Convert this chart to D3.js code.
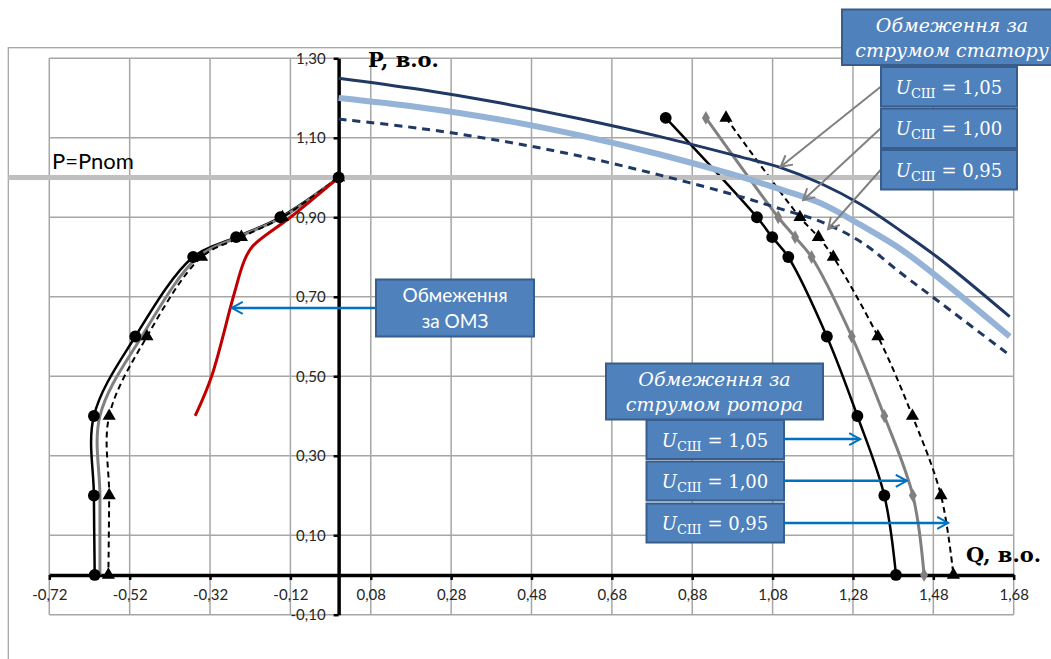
<!DOCTYPE html>
<html>
<head>
<meta charset="utf-8">
<script src="https://cdn.jsdelivr.net/npm/d3@7"></script>
<style>
  body { margin: 0; background: #fff; }
  svg { display: block; }
</style>
</head>
<body>
<script>
var WIDTH = 1051,
    HEIGHT = 659;

// axis ticks
var qTicks = [-0.72, -0.52, -0.32, -0.12, 0.08, 0.28, 0.48, 0.68, 0.88, 1.08, 1.28, 1.48, 1.68];
var pTicks = [-0.10, 0.10, 0.30, 0.50, 0.70, 0.90, 1.10, 1.30];

// stator current limit (U = 1.05 / 1.00 / 0.95)
var statorQ    = [0, 0.2, 0.4, 0.6, 0.8, 1.0, 1.1, 1.2, 1.3, 1.4, 1.5, 1.67];
var statorP105 = [1.25, 1.222, 1.188, 1.148, 1.103, 1.052, 1.025, 0.985, 0.932, 0.865, 0.792, 0.65];
var statorP100 = [1.20, 1.177, 1.146, 1.106, 1.058, 1.002, 0.970, 0.935, 0.880, 0.819, 0.742, 0.60];
var statorP095 = [1.147, 1.124, 1.093, 1.054, 1.006, 0.952, 0.921, 0.889, 0.838, 0.759, 0.683, 0.553];

// rotor current limit, over-excited side
var rotorPR    = [1.15, 0.90, 0.85, 0.80, 0.60, 0.40, 0.20, 0];
var rotorQR105 = [0.814, 1.041, 1.079, 1.119, 1.215, 1.291, 1.358, 1.387];
var rotorQR100 = [0.914, 1.094, 1.136, 1.177, 1.277, 1.358, 1.429, 1.457];
var rotorQR095 = [0.964, 1.148, 1.194, 1.231, 1.342, 1.428, 1.499, 1.530];

// rotor current limit, under-excited side
var rotorPL    = [1.0, 0.90, 0.85, 0.80, 0.60, 0.40, 0.20, 0];
var rotorQL105 = [0, -0.145, -0.255, -0.362, -0.506, -0.609, -0.609, -0.607];
var rotorQL100 = [0, -0.140, -0.250, -0.350, -0.490, -0.594, -0.594, -0.594];
var rotorQL095 = [0, -0.140, -0.242, -0.341, -0.477, -0.571, -0.571, -0.573];

// under-excitation limiter (ОМЗ)
var omzQ = [0, -0.12, -0.215, -0.235, -0.262, -0.316, -0.357];
var omzP = [1.0, 0.90, 0.826, 0.79, 0.70, 0.50, 0.40];

var pNom = 1.0;

var x = d3.scaleLinear().domain([-0.72, 1.68]).range([49.3, 1013.7]),
    y = d3.scaleLinear().domain([-0.10, 1.30]).range([614.7, 58.3]);

var loc = d3.formatLocale({decimal: ",", thousands: " ", grouping: [3], currency: ["", ""], minus: "-"}),
    fmt = loc.format(".2f");

function pts(qs, ps) { return qs.map(function(q, i) { return [q, ps[i]]; }); }

var line = d3.line()
    .x(function(d) { return x(d[0]); })
    .y(function(d) { return y(d[1]); })
    .curve(d3.curveCatmullRom.alpha(0.5));

var svg = d3.select("body").append("svg")
    .attr("width", WIDTH)
    .attr("height", HEIGHT)
    .style("font-family", "Lato, 'Open Sans', sans-serif");

var defs = svg.append("defs");
function arrowMarker(id, color) {
  defs.append("marker")
      .attr("id", id)
      .attr("viewBox", "-12 -7 14 14")
      .attr("refX", 0).attr("refY", 0)
      .attr("markerWidth", 14).attr("markerHeight", 14)
      .attr("markerUnits", "userSpaceOnUse")
      .attr("orient", "auto")
    .append("path")
      .attr("d", "M-11,-6 L0,0 L-11,6")
      .attr("fill", "none")
      .attr("stroke", color)
      .attr("stroke-width", 2);
}
arrowMarker("arrGray", "#808080");
arrowMarker("arrBlue", "#0070c0");

// chart frame + grid
svg.append("rect")
    .attr("x", 8.3).attr("y", 47.7)
    .attr("width", 1100).attr("height", 700)
    .attr("fill", "none").attr("stroke", "#a6a6a6").attr("stroke-width", 1.3);

svg.append("g").selectAll("line").data(qTicks).enter().append("line")
    .attr("x1", function(d) { return x(d); }).attr("x2", function(d) { return x(d); })
    .attr("y1", y(1.30)).attr("y2", y(-0.10))
    .attr("stroke", "#a6a6a6").attr("stroke-width", 1.5);
svg.append("g").selectAll("line").data(pTicks).enter().append("line")
    .attr("x1", x(-0.72)).attr("x2", x(1.68))
    .attr("y1", function(d) { return y(d); }).attr("y2", function(d) { return y(d); })
    .attr("stroke", "#a6a6a6").attr("stroke-width", 1.5);

// axes
var xAxis = svg.append("g")
    .attr("transform", "translate(0," + y(0) + ")")
    .call(d3.axisBottom(x).tickValues(qTicks).tickSize(5).tickSizeOuter(0).tickPadding(9).tickFormat(fmt));
var yAxis = svg.append("g")
    .attr("transform", "translate(" + x(0) + ",0)")
    .call(d3.axisLeft(y).tickValues(pTicks).tickSize(5).tickSizeOuter(0).tickPadding(8).tickFormat(fmt));
[xAxis, yAxis].forEach(function(a) {
  a.select(".domain").attr("stroke", "#000").attr("stroke-width", 3.5);
  a.selectAll(".tick line").attr("stroke", "#000").attr("stroke-width", 2.5);
  a.selectAll(".tick text").attr("fill", "#262626")
      .style("font-family", "Lato, sans-serif").style("font-size", "15px");
});

// rotor current curves
var rotorSeries = [
  {data: pts(rotorQR105, rotorPR), color: "#000", width: 2.5, dash: null, sym: d3.symbolCircle, size: 110, mark: true},
  {data: pts(rotorQR100, rotorPR), color: "#808080", width: 3, dash: null, sym: d3.symbolDiamond, size: 55, mark: true},
  {data: pts(rotorQR095, rotorPR), color: "#000", width: 2, dash: "6,4", sym: d3.symbolTriangle, size: 75, mark: true},
  {data: pts(rotorQL105, rotorPL), color: "#000", width: 2.5, dash: null, sym: d3.symbolCircle, size: 110, mark: true},
  {data: pts(rotorQL100, rotorPL), color: "#808080", width: 3, dash: null, sym: null, size: 0, mark: false},
  {data: pts(rotorQL095, rotorPL), color: "#000", width: 2, dash: "6,4", sym: d3.symbolTriangle, size: 75, mark: true}
];

svg.append("g").selectAll("path").data(rotorSeries).enter().append("path")
    .attr("d", function(s) { return line(s.data); })
    .attr("fill", "none")
    .attr("stroke", function(s) { return s.color; })
    .attr("stroke-width", function(s) { return s.width; })
    .attr("stroke-dasharray", function(s) { return s.dash; });

// OMZ limiter
svg.append("path")
    .attr("d", line(pts(omzQ, omzP)))
    .attr("fill", "none").attr("stroke", "#c00000").attr("stroke-width", 3);

// P = Pnom
svg.append("line")
    .attr("x1", 8.3).attr("x2", x(1.68))
    .attr("y1", y(pNom)).attr("y2", y(pNom))
    .attr("stroke", "#bfbfbf").attr("stroke-width", 5);
svg.append("text")
    .attr("x", 52).attr("y", 169)
    .style("font-size", "22px").attr("fill", "#000")
    .text("P=Pnom");

// stator current curves
var statorSeries = [
  {p: statorP105, color: "#1f3864", width: 3, dash: null},
  {p: statorP100, color: "#95b3d7", width: 6, dash: null},
  {p: statorP095, color: "#1f3864", width: 3, dash: "8,6"}
];
svg.append("g").selectAll("path").data(statorSeries).enter().append("path")
    .attr("d", function(s) { return line(pts(statorQ, s.p)); })
    .attr("fill", "none")
    .attr("stroke", function(s) { return s.color; })
    .attr("stroke-width", function(s) { return s.width; })
    .attr("stroke-dasharray", function(s) { return s.dash; });

// markers
rotorSeries.filter(function(s) { return s.mark; }).forEach(function(s) {
  svg.append("g").selectAll("path").data(s.data).enter().append("path")
      .attr("transform", function(d) { return "translate(" + x(d[0]) + "," + y(d[1]) + ")"; })
      .attr("d", d3.symbol().type(s.sym).size(s.size))
      .attr("fill", s.color);
});

// axis titles
svg.append("text").attr("x", 368).attr("y", 67)
    .style("font-family", "'DejaVu Serif', serif").style("font-weight", "bold").style("font-size", "21px")
    .text("P, в.о.");
svg.append("text").attr("x", 966).attr("y", 562)
    .style("font-family", "'DejaVu Serif', serif").style("font-weight", "bold").style("font-size", "21px")
    .text("Q, в.о.");

// annotation boxes
function box(x0, y0, w, h) {
  svg.append("rect").attr("x", x0).attr("y", y0).attr("width", w).attr("height", h)
      .attr("fill", "#4f81bd").attr("stroke", "#385d8a").attr("stroke-width", 2);
}
function italicLines(cx, baselines, lines) {
  lines.forEach(function(t, i) {
    svg.append("text").attr("x", cx).attr("y", baselines[i])
        .attr("text-anchor", "middle").attr("fill", "#fff")
        .style("font-family", "'DejaVu Serif', serif").style("font-style", "italic").style("font-size", "19px")
        .text(t);
  });
}
function uLabel(cx, base, val) {
  var t = svg.append("text").attr("x", cx).attr("y", base)
      .attr("text-anchor", "middle").attr("fill", "#fff")
      .style("font-family", "'DejaVu Serif', serif").style("font-size", "18px");
  t.append("tspan").style("font-style", "italic").text("U");
  t.append("tspan").attr("dy", 4).style("font-size", "13px").text("СШ");
  t.append("tspan").attr("dy", -4).text(" = " + val);
}
function arrow(x1, y1, x2, y2, id, color, w) {
  svg.append("line").attr("x1", x1).attr("y1", y1).attr("x2", x2).attr("y2", y2)
      .attr("stroke", color).attr("stroke-width", w)
      .attr("marker-end", "url(#" + id + ")");
}

var uVals = ["1,05", "1,00", "0,95"];

// stator annotation
box(842, 9.5, 220, 55.5);
italicLines(952, [32, 57], ["Обмеження за", "струмом статору"]);
var statorBoxY = [67, 108.5, 150];
var statorTargets = [[1.10, 1.027], [1.156, 0.943], [1.218, 0.870]];
statorTargets.forEach(function(t, i) {
  arrow(881, statorBoxY[i] + 19.5, x(t[0]), y(t[1]), "arrGray", "#808080", 2);
});
statorBoxY.forEach(function(b, i) {
  box(881, b, 136, 39.5);
  uLabel(949, b + 26.5, uVals[i]);
});

// rotor annotation
box(606, 363.5, 217, 56);
italicLines(714.5, [386, 411], ["Обмеження за", "струмом ротора"]);
var rotorBoxY = [420, 461.5, 503.5];
var rotorTargets = [[1.298, 0.342], [1.414, 0.237], [1.517, 0.131]];
rotorBoxY.forEach(function(b, i) {
  box(646.5, b, 137.5, 39);
  uLabel(715, b + 26.5, uVals[i]);
  arrow(784, y(rotorTargets[i][1]), x(rotorTargets[i][0]), y(rotorTargets[i][1]), "arrBlue", "#0070c0", 2.5);
});

// OMZ annotation
arrow(376, y(0.672), x(-0.266), y(0.672), "arrBlue", "#0070c0", 2.5);
box(376, 279.5, 158, 57);
svg.append("text").attr("x", 455).attr("y", 302).attr("text-anchor", "middle").attr("fill", "#fff")
    .style("font-size", "19px").text("Обмеження");
svg.append("text").attr("x", 455).attr("y", 328).attr("text-anchor", "middle").attr("fill", "#fff")
    .style("font-size", "19px").text("за ОМЗ");
</script>
</body>
</html>
